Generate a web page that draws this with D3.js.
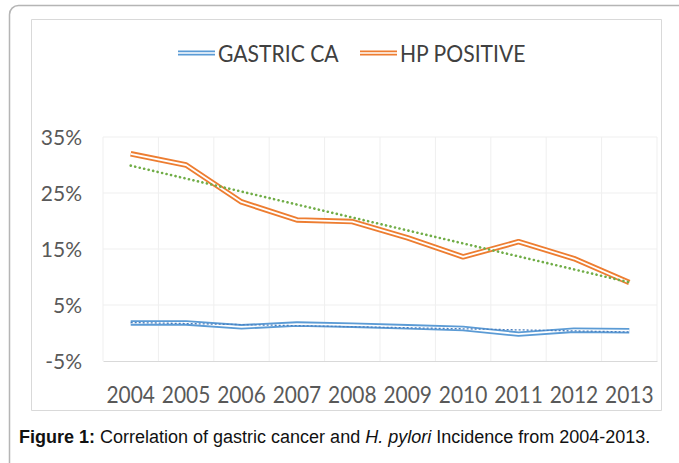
<!DOCTYPE html>
<html>
<head>
<meta charset="utf-8">
<script src="https://cdn.jsdelivr.net/npm/d3@7"></script>
<style>
  body { margin: 0; background: #fff; }
  svg { display: block; }
</style>
</head>
<body>
<svg id="chart" width="679" height="463"></svg>
<script>
const years = ["2004", "2005", "2006", "2007", "2008", "2009", "2010", "2011", "2012", "2013"];
const gastricCa = [1.8, 1.8, 1.1, 1.6, 1.4, 1.1, 0.8, -0.2, 0.5, 0.4];
const hpPositive = [32, 30, 23.4, 20.2, 19.9, 17, 13.6, 16.3, 13.3, 9];
const yTicks = [-5, 5, 15, 25, 35];
const seriesNames = ["GASTRIC CA", "HP POSITIVE"];

const blue = "#5b9bd5", orange = "#ed7d31", green = "#70ad47";
const tickFont = "Lato, 'Open Sans', sans-serif";

// least squares line, same as the excel trendline
let trend = vals => {
    const n = vals.length, mx = (n - 1) / 2, my = d3.mean(vals);
    const slope = d3.sum(vals, (v, i) => (i - mx) * (v - my)) / d3.sum(vals, (v, i) => (i - mx) ** 2);
    return vals.map((v, i) => my + slope * (i - mx));
}

const svg = d3.select("#chart");

// page frame (only its left and top edges are in view) + chart frame
const frame = d3.path();
frame.moveTo(9.5, 463);
frame.lineTo(9.5, 14.5);
frame.arcTo(9.5, 5.5, 18.5, 5.5, 9);
frame.lineTo(679, 5.5);
svg.append("path").attr("d", frame.toString())
    .attr("fill", "none").attr("stroke", "#b5b5b5").attr("stroke-width", 1.5);

const box = d3.path();
box.rect(31.5, 19.5, 630, 391);
svg.append("path").attr("d", box.toString())
    .attr("fill", "none").attr("stroke", "#d9d9d9");

const margin = {top: 137, left: 103, right: 22, bottom: 102};
const innerWidth = +svg.attr("width") - margin.left - margin.right;
const innerHeight = +svg.attr("height") - margin.top - margin.bottom;

const x = d3.scaleBand().domain(years).range([0, innerWidth]);
const y = d3.scaleLinear().domain([-5, 35]).range([innerHeight, 0]);
const cx = d => x(d) + x.bandwidth() / 2;

const g = svg.append("g")
    .attr("transform", `translate(${margin.left}, ${margin.top})`);

// gridlines
g.append("g").selectAll("line").data(yTicks.slice(1))
    .enter().append("line")
    .attr("x1", 0).attr("x2", innerWidth)
    .attr("y1", d => y(d)).attr("y2", d => y(d))
    .attr("stroke", "#efefef");
g.append("g").selectAll("line").data(years.concat([null]))
    .enter().append("line")
    .attr("x1", (d, i) => i * x.step()).attr("x2", (d, i) => i * x.step())
    .attr("y1", 0).attr("y2", innerHeight)
    .attr("stroke", "#efefef");

const yAxis = d3.axisLeft(y)
      .tickValues(yTicks)
      .tickFormat(d => d + "%")
      .tickSize(0)
      .tickPadding(21);
g.append("g")
    .call(yAxis)
    .call(a => a.select(".domain").remove())
    .selectAll("text")
    .attr("dy", null).attr("y", 7.5)
    .attr("font-family", tickFont).attr("font-size", 21)
    .attr("fill", "#595959");

const xAxis = d3.axisBottom(x).tickSize(0).tickPadding(24);
g.append("g")
    .attr("transform", `translate(0, ${innerHeight})`)
    .call(xAxis)
    .call(a => a.select(".domain").attr("stroke", "#d9d9d9"))
    .selectAll("text")
    .attr("dy", null).attr("y", 42)
    .attr("font-family", tickFont).attr("font-size", 22.5)
    .attr("fill", "#595959")
    .attr("transform", "scale(0.93,1)");

const line = d3.line()
    .x((d, i) => cx(years[i]))
    .y(d => y(d));

// excel "double" compound line: thick colour stroke with a white core
let doubleLine = (sel, vals, color) => {
    sel.append("path").attr("d", line(vals))
        .attr("fill", "none").attr("stroke", color).attr("stroke-width", 5.5)
        .attr("stroke-linejoin", "round");
    sel.append("path").attr("d", line(vals))
        .attr("fill", "none").attr("stroke", "#fff").attr("stroke-width", 1.8)
        .attr("stroke-linejoin", "round");
}

doubleLine(g.append("g"), gastricCa, blue);
doubleLine(g.append("g"), hpPositive, orange);

g.append("path").attr("d", line(trend(gastricCa)))
    .attr("fill", "none").attr("stroke", "#4a7fbf").attr("stroke-width", 1.3)
    .attr("stroke-dasharray", "2,2");
g.append("path").attr("d", line(trend(hpPositive)))
    .attr("fill", "none").attr("stroke", green).attr("stroke-width", 2.6)
    .attr("stroke-dasharray", "0.1,4.5").attr("stroke-linecap", "round");

// legend
const legend = svg.append("g").attr("transform", "translate(178, 53)");
const legendX = [0, 182];
seriesNames.forEach((name, i) => {
    const item = legend.append("g").attr("transform", `translate(${legendX[i]}, 0)`);
    item.append("line").attr("x1", 0).attr("x2", 37).attr("y1", 0).attr("y2", 0)
        .attr("stroke", [blue, orange][i]).attr("stroke-width", 5);
    item.append("line").attr("x1", 0).attr("x2", 37).attr("y1", 0).attr("y2", 0)
        .attr("stroke", "#fff").attr("stroke-width", 1.6);
    item.append("text")
        .attr("transform", "translate(40, 0) scale(0.88,1)")
        .attr("y", 8.6)
        .attr("font-family", tickFont).attr("font-size", 24)
        .attr("fill", "#404040")
        .text(name);
});

// caption
const caption = svg.append("text")
    .attr("x", 19).attr("y", 443)
    .attr("font-family", "'Liberation Sans', Arial, sans-serif")
    .attr("font-size", 18).attr("fill", "#111");
caption.append("tspan").attr("font-weight", "bold").text("Figure 1:");
caption.append("tspan").text(" Correlation of gastric cancer and ");
caption.append("tspan").attr("font-style", "italic").text("H. pylori");
caption.append("tspan").text(" Incidence from 2004-2013.");
</script>
</body>
</html>
